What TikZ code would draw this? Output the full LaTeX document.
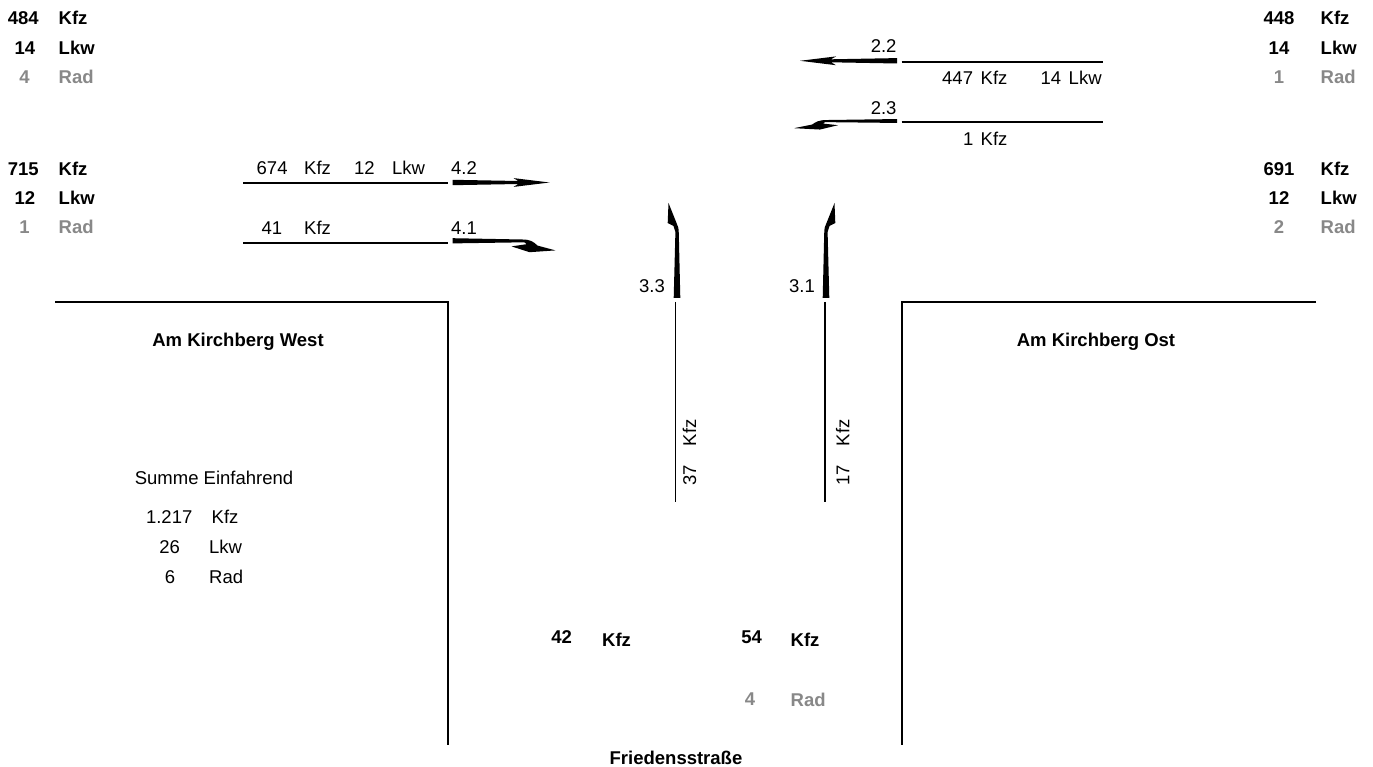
\documentclass[tikz,border=0pt]{standalone}
\usepackage{fontspec}
\setmainfont{Liberation Sans}
\definecolor{radgray}{RGB}{136,136,136}
\begin{document}
\begin{tikzpicture}[x=1pt,y=-1pt,
  lbl/.style={inner sep=0pt, font=\fontsize{18.5}{20}\selectfont},
  blbl/.style={inner sep=0pt, font=\fontsize{18.5}{20}\selectfont\bfseries},
  glbl/.style={blbl, text=radgray},
  road/.style={line width=1.6pt},
  lane/.style={line width=1.8pt},
  arrowfill/.style={fill=black, draw=none},
  pics/straightarrow/.style={code={\fill[arrowfill] (0,-2.7) -- (66,-1.5) -- (61,-4.4) -- (97,0) -- (61,4.4) -- (66,1.5) -- (0,2.7) -- cycle;}},
  pics/jogh/.style={code={\fill[arrowfill,yscale=#1] (0,-2.6) -- (70,-1.3) .. controls (78,-1.3) and (81,1) .. (85,4.8) -- (103,9.6) -- (77,11.4) -- (59,5.6) -- (74,3.4) -- (72,1.5) -- (0,2.6) -- cycle;}},
  pics/jogv/.style={code={\fill[arrowfill,yscale=#1] (0,-3.3) -- (64,-1.8) .. controls (70,-1.8) and (72,-1) .. (75,0.5) -- (95,8.5) -- (75,9.3) -- (72,3.5) -- (66,1.6) -- (0,3.3) -- cycle;}}
]
\useasboundingbox (0,0) rectangle (1373,767);

% ---- corner totals, left
\node[blbl, anchor=base] (tl1n) at (23.3,25) {484};
\node[blbl, anchor=base west] (tl1u) at (58.5,25) {Kfz};
\node[blbl, anchor=base] (tl2n) at (25,54.5) {14};
\node[blbl, anchor=base west] (tl2u) at (58.5,54.5) {Lkw};
\node[glbl, anchor=base] (tl3n) at (24.5,83.5) {4};
\node[glbl, anchor=base west] (tl3u) at (58.5,83.5) {Rad};
\node[blbl, anchor=base] (bl1n) at (23.3,176) {715};
\node[blbl, anchor=base west] (bl1u) at (58.5,176) {Kfz};
\node[blbl, anchor=base] (bl2n) at (25,205) {12};
\node[blbl, anchor=base west] (bl2u) at (58.5,205) {Lkw};
\node[glbl, anchor=base] (bl3n) at (24.5,233.5) {1};
\node[glbl, anchor=base west] (bl3u) at (58.5,233.5) {Rad};

% ---- corner totals, right
\node[blbl, anchor=base] (tr1n) at (1279,25) {448};
\node[blbl, anchor=base west] (tr1u) at (1320.5,25) {Kfz};
\node[blbl, anchor=base] (tr2n) at (1279,54.5) {14};
\node[blbl, anchor=base west] (tr2u) at (1320.5,54.5) {Lkw};
\node[glbl, anchor=base] (tr3n) at (1279,83.5) {1};
\node[glbl, anchor=base west] (tr3u) at (1320.5,83.5) {Rad};
\node[blbl, anchor=base] (br1n) at (1279,176) {691};
\node[blbl, anchor=base west] (br1u) at (1320.5,176) {Kfz};
\node[blbl, anchor=base] (br2n) at (1279,205) {12};
\node[blbl, anchor=base west] (br2u) at (1320.5,205) {Lkw};
\node[glbl, anchor=base] (br3n) at (1279,233.5) {2};
\node[glbl, anchor=base west] (br3u) at (1320.5,233.5) {Rad};

% ---- roads
\coordinate (rwa) at (55,302);
\coordinate (rwb) at (448,302);
\coordinate (rwc) at (448,745);
\coordinate (rea) at (1316,302);
\coordinate (reb) at (902,302);
\coordinate (rec) at (902,745);
\draw[road] (rwa) -- (rwb) -- (rwc);
\draw[road] (rea) -- (reb) -- (rec);
\node[blbl, anchor=base] (west) at (238,346) {Am Kirchberg West};
\node[blbl, anchor=base] (ost) at (1096,346) {Am Kirchberg Ost};
\node[blbl, anchor=base] (fried) at (676,764) {Friedensstraße};

% ---- lane 2.2 / 2.3 (east arm)
\coordinate (l22a) at (901.7,61.7);
\coordinate (l22b) at (1102.7,61.7);
\draw[lane] (l22a) -- (l22b);
\pic[rotate=180] at (897,60.8) {straightarrow};
\node[lbl, anchor=base east] (n22) at (896.7,53) {2.2};
\node[lbl, anchor=base west] (c22a) at (942,85) {447};
\node[lbl, anchor=base west] (c22b) at (980.5,85) {Kfz};
\node[lbl, anchor=base west] (c22c) at (1040.5,85) {14};
\node[lbl, anchor=base west] (c22d) at (1068.5,85) {Lkw};

\coordinate (l23a) at (901.7,121.7);
\coordinate (l23b) at (1102.7,121.7);
\draw[lane] (l23a) -- (l23b);
\pic[rotate=180] at (897,121) {jogh=-0.75};
\node[lbl, anchor=base east] (n23) at (896.7,115) {2.3};
\node[lbl, anchor=base west] (c23a) at (963,146) {1};
\node[lbl, anchor=base west] (c23b) at (980.5,146) {Kfz};

% ---- lane 4.2 / 4.1 (west arm)
\coordinate (l42a) at (243.3,182.7);
\coordinate (l42b) at (448.3,182.7);
\draw[lane] (l42a) -- (l42b);
\pic at (452.5,182.5) {straightarrow};
\node[lbl, anchor=base west] (n42) at (451,175) {4.2};
\node[lbl, anchor=base west] (c42a) at (256.5,175) {674};
\node[lbl, anchor=base west] (c42b) at (304,175) {Kfz};
\node[lbl, anchor=base west] (c42c) at (354,175) {12};
\node[lbl, anchor=base west] (c42d) at (392,175) {Lkw};

\coordinate (l41a) at (243.3,242.7);
\coordinate (l41b) at (448.3,242.7);
\draw[lane] (l41a) -- (l41b);
\pic at (452.5,240.8) {jogh=1};
\node[lbl, anchor=base west] (n41) at (451,235) {4.1};
\node[lbl, anchor=base west] (c41a) at (261.5,235) {41};
\node[lbl, anchor=base west] (c41b) at (304,235) {Kfz};

% ---- lane 3.3 / 3.1 (south arm)
\coordinate (l33a) at (675.5,302);
\coordinate (l33b) at (675.5,502);
\draw[lane] (l33a) -- (l33b);
\pic[rotate=90] at (677,298) {jogv=-1};
\node[lbl, anchor=base east] (n33) at (665,293) {3.3};
\node[lbl, anchor=base west, rotate=90] (c33a) at (696,485.5) {37};
\node[lbl, anchor=base west, rotate=90] (c33b) at (696,446.5) {Kfz};

\coordinate (l31a) at (825,302);
\coordinate (l31b) at (825,502);
\draw[lane] (l31a) -- (l31b);
\pic[rotate=90] at (826,298) {jogv=1};
\node[lbl, anchor=base east] (n31) at (815,293) {3.1};
\node[lbl, anchor=base west, rotate=90] (c31a) at (849.3,485.5) {17};
\node[lbl, anchor=base west, rotate=90] (c31b) at (849.3,446.5) {Kfz};

% ---- south totals
\node[blbl, anchor=base] (s1n) at (561.7,643) {42};
\node[blbl, anchor=base west] (s1u) at (602,646) {Kfz};
\node[blbl, anchor=base] (s2n) at (751.7,643) {54};
\node[blbl, anchor=base west] (s2u) at (790.5,646) {Kfz};
\node[glbl, anchor=base] (s3n) at (750,705.5) {4};
\node[glbl, anchor=base west] (s3u) at (790.5,706) {Rad};

% ---- sum block
\node[lbl, anchor=base] (sumt) at (214,484) {Summe Einfahrend};
\node[lbl, anchor=base] (sum1n) at (169.2,523.5) {1.217};
\node[lbl, anchor=base west] (sum1u) at (211.5,523.5) {Kfz};
\node[lbl, anchor=base] (sum2n) at (169.7,553.3) {26};
\node[lbl, anchor=base west] (sum2u) at (209,553.3) {Lkw};
\node[lbl, anchor=base] (sum3n) at (170,583.3) {6};
\node[lbl, anchor=base west] (sum3u) at (209,583.3) {Rad};
\end{tikzpicture}
\end{document}
